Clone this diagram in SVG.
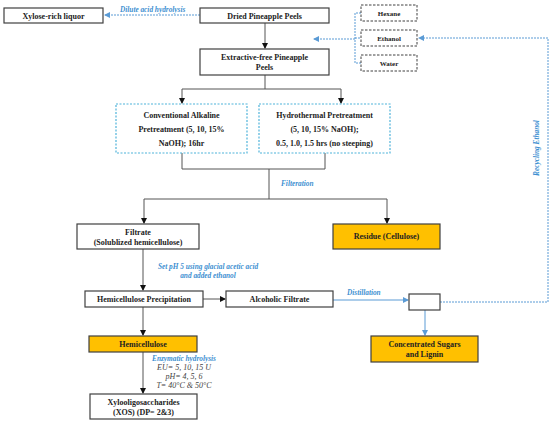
<svg xmlns="http://www.w3.org/2000/svg" width="550" height="425" viewBox="0 0 550 425">
<style>
.box{fill:#fff;stroke:#404040;stroke-width:1.2}
.org{fill:#FFC000;stroke:#404040;stroke-width:1.2}
.dbox{fill:#fff;stroke:#404040;stroke-width:1;stroke-dasharray:2.5,1.5}
.bbox{fill:#fff;stroke:#4FB3DA;stroke-width:1.2;stroke-dasharray:2,1.5}
.t{font-family:"Liberation Serif",serif;font-weight:bold;font-size:8px;fill:#222;text-anchor:middle}
.s{font-size:7px}
.l{font-family:"Liberation Serif",serif;font-weight:bold;font-style:italic;font-size:7.3px;fill:#3D8FD1}
.g{font-family:"Liberation Serif",serif;font-style:italic;font-size:8px;fill:#444;text-anchor:middle}
.k{fill:none;stroke:#555;stroke-width:1}
.b{fill:none;stroke:#5B9BD5;stroke-width:1}
.bd{fill:none;stroke:#5B9BD5;stroke-width:1;stroke-dasharray:2,1}
</style>
<defs>
<marker id="ak" markerWidth="6" markerHeight="6" refX="5" refY="3" orient="auto" markerUnits="userSpaceOnUse"><path d="M0,0 L6,3 L0,6 z" fill="#111"/></marker>
<marker id="ab" markerWidth="6" markerHeight="6" refX="5" refY="3" orient="auto" markerUnits="userSpaceOnUse"><path d="M0,0 L6,3 L0,6 z" fill="#5B9BD5"/></marker>
</defs>
<rect width="550" height="425" fill="#fff"/>
<g id="connectors">
<path class="bd" d="M200,15 H105" marker-end="url(#ab)"/>
<path class="k" d="M265,23 V48" marker-end="url(#ak)"/>
<path class="bd" d="M361,13 H355 V63 H361 M355,38 H361 M355,39 H314" marker-end="url(#ab)"/>
<path class="bd" d="M440,302 H548 V38 H419" marker-end="url(#ab)"/>
<path class="k" d="M265,75 V89 M182,89 H341"/>
<path class="k" d="M182,89 V103" marker-end="url(#ak)"/>
<path class="k" d="M341,89 V103" marker-end="url(#ak)"/>
<path class="k" d="M182,153 V169 H325 V153 M269,169 V199 M144,199 H387"/>
<path class="k" d="M144,199 V223" marker-end="url(#ak)"/>
<path class="k" d="M387,199 V223" marker-end="url(#ak)"/>
<path class="k" d="M143,249 V290" marker-end="url(#ak)"/>
<path class="k" d="M203,299 H225" marker-end="url(#ak)"/>
<path class="b" d="M333,300 H408" marker-end="url(#ab)"/>
<path class="b" d="M425,310 V335" marker-end="url(#ab)"/>
<path class="k" d="M143,307 V335" marker-end="url(#ak)"/>
<path class="k" d="M143,352 V393" marker-end="url(#ak)"/>
</g>
<g id="labels">
<text class="l" x="120" y="12">Dilute acid hydrolysis</text>
<text class="l" transform="translate(539,148) rotate(-90)" text-anchor="middle">Recycling Ethanol</text>
<text class="l" x="281" y="186">Filteration</text>
<text class="l" x="208" y="269" text-anchor="middle">Set pH 5 using glacial acetic acid</text>
<text class="l" x="208" y="278" text-anchor="middle">and added ethanol</text>
<text class="l" x="347" y="295">Distillation</text>
<text class="l" x="184" y="361" text-anchor="middle">Enzymatic hydrolysis</text>
<text class="g" x="184" y="370">EU= 5, 10, 15 U</text>
<text class="g" x="184" y="379">pH= 4, 5, 6</text>
<text class="g" x="184" y="388">T= 40°C &amp; 50°C</text>
</g>
<g id="xylose"><rect class="box" x="4" y="8" width="99" height="15"/><text class="t" x="53.5" y="18.5">Xylose-rich liquor</text></g>
<g id="dried"><rect class="box" x="200" y="8" width="129" height="15"/><text class="t" x="264.5" y="18.5">Dried Pineapple Peels</text></g>
<g id="hexane"><rect class="dbox" x="361" y="5" width="56" height="16"/><text class="t s" x="389" y="15.5">Hexane</text></g>
<g id="ethanol"><rect class="dbox" x="361" y="30" width="56" height="16"/><text class="t s" x="389" y="40.5">Ethanol</text></g>
<g id="water"><rect class="dbox" x="361" y="55" width="56" height="16"/><text class="t s" x="389" y="65.5">Water</text></g>
<g id="extractive"><rect class="box" x="200" y="49" width="129" height="26"/><text class="t" x="264.5" y="60">Extractive-free Pineapple</text><text class="t" x="264.5" y="70">Peels</text></g>
<g id="conventional"><rect class="bbox" x="116" y="104" width="131" height="49"/><text class="t" x="181.5" y="118">Conventional Alkaline</text><text class="t" x="181.5" y="132">Pretreatment (5, 10, 15%</text><text class="t" x="181.5" y="146">NaOH); 16hr</text></g>
<g id="hydrothermal"><rect class="bbox" x="259" y="104" width="131" height="49"/><text class="t" x="324.5" y="118">Hydrothermal Pretreatment</text><text class="t" x="324.5" y="132">(5, 10, 15% NaOH);</text><text class="t" x="324.5" y="146">0.5, 1.0, 1.5 hrs (no steeping)</text></g>
<g id="filtrate"><rect class="box" x="77" y="224" width="122" height="25"/><text class="t" x="138" y="235">Filtrate</text><text class="t" x="138" y="245">(Solublized hemicellulose)</text></g>
<g id="residue"><rect class="org" x="333" y="224" width="107" height="25"/><text class="t" x="386.5" y="239">Residue (Cellulose)</text></g>
<g id="precipitation"><rect class="box" x="85" y="291" width="118" height="16"/><text class="t" x="144" y="302">Hemicellulose Precipitation</text></g>
<g id="alcoholic"><rect class="box" x="226" y="291" width="107" height="16"/><text class="t" x="279.5" y="302">Alcoholic Filtrate</text></g>
<g id="distill"><rect class="box" x="409" y="294" width="31" height="16"/></g>
<g id="sugars"><rect class="org" x="371" y="336" width="107" height="26"/><text class="t" x="424.5" y="347">Concentrated Sugars</text><text class="t" x="424.5" y="357">and Lignin</text></g>
<g id="hemicellulose"><rect class="org" x="89" y="336" width="108" height="16"/><text class="t" x="143" y="347">Hemicellulose</text></g>
<g id="xos"><rect class="box" x="90" y="394" width="107" height="25"/><text class="t" x="143.5" y="405">Xylooligosaccharides</text><text class="t" x="143.5" y="415">(XOS) (DP= 2&amp;3)</text></g>
</svg>
